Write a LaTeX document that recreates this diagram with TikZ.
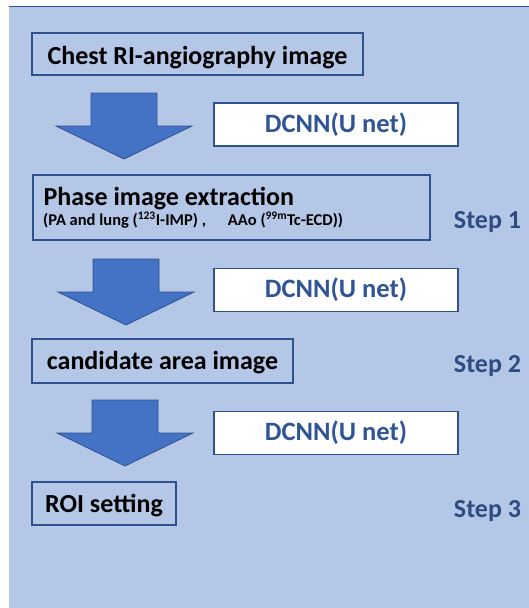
\documentclass[tikz,border=0pt]{standalone}
\usepackage{fontspec}
\setmainfont{Carlito}
\definecolor{panelbg}{HTML}{B4C7E7}
\definecolor{edgeblue}{HTML}{2F528F}
\definecolor{arrowfill}{HTML}{4472C4}
\definecolor{netblue}{HTML}{2F5597}
\definecolor{stepblue}{HTML}{2E4C82}
\tikzset{
  stagebox/.style={draw=edgeblue, line width=1.1pt, fill=panelbg, inner sep=0pt,
    font=\fontsize{26}{30}\selectfont\bfseries, text=black, text depth=0pt},
  netbox/.style={draw=edgeblue, line width=1.1pt, fill=white, inner sep=0pt,
    minimum width=244pt, minimum height=43pt, text height=15pt, text depth=0pt,
    font=\fontsize{26.5}{30}\selectfont\bfseries, text=netblue},
  steplabel/.style={font=\fontsize{26}{30}\selectfont\bfseries, text=stepblue, inner sep=0pt},
  flowarrow/.style={fill=arrowfill, draw=edgeblue, line width=0.8pt, line join=miter},
  pics/downarrow/.style={code={
    \draw[flowarrow] (-33,0) -- (33,0) -- (33,33) -- (68,33) -- (0,66)
      -- (-68,33) -- (-33,33) -- cycle;
  }}
}
\begin{document}
\begin{tikzpicture}[x=1pt,y=-1pt]
\useasboundingbox (0,0) rectangle (529,608);
% background panel
\fill[panelbg] (9,6) rectangle (529,608);
\draw[edgeblue, line width=1pt] (9,6) -- (529,6);

% process stages
\node[stagebox, minimum width=331pt, minimum height=42pt, text height=21pt] (chest) at (197.5,54) {Chest RI-angiography image};
\node[stagebox, minimum width=397pt, minimum height=65pt] (phase) at (231.5,207.5) {};
\node[stagebox, anchor=base west, draw=none, fill=none] (phasetitle) at (43,205) {Phase image extraction};
\node[anchor=base west, inner sep=0pt, font=\fontsize{16.5}{18}\selectfont\bfseries] (phasesub) at (43,225.5)
  {(PA and lung (\textsuperscript{123}I-IMP) ,\hspace{1.1em} AAo (\textsuperscript{99m}Tc-ECD))};
\node[stagebox, minimum width=261pt, minimum height=44pt, text height=16pt] (cand) at (162.5,361) {candidate area image};
\node[stagebox, minimum width=144pt, minimum height=43pt, text height=17pt] (roi) at (104,503.5) {ROI setting};

% network boxes
\node[netbox] (net1) at (336,124.5) {DCNN(U net)};
\node[netbox] (net2) at (336,290) {DCNN(U net)};
\node[netbox] (net3) at (336,433) {DCNN(U net)};

% block arrows between stages
\pic at (124,93) {downarrow};
\pic at (126,259) {downarrow};
\pic at (125,400) {downarrow};

% step labels
\node[steplabel] (s1) at (487.5,222) {Step 1};
\node[steplabel] (s2) at (487.5,366) {Step 2};
\node[steplabel] (s3) at (487.5,511) {Step 3};
\end{tikzpicture}
\end{document}
